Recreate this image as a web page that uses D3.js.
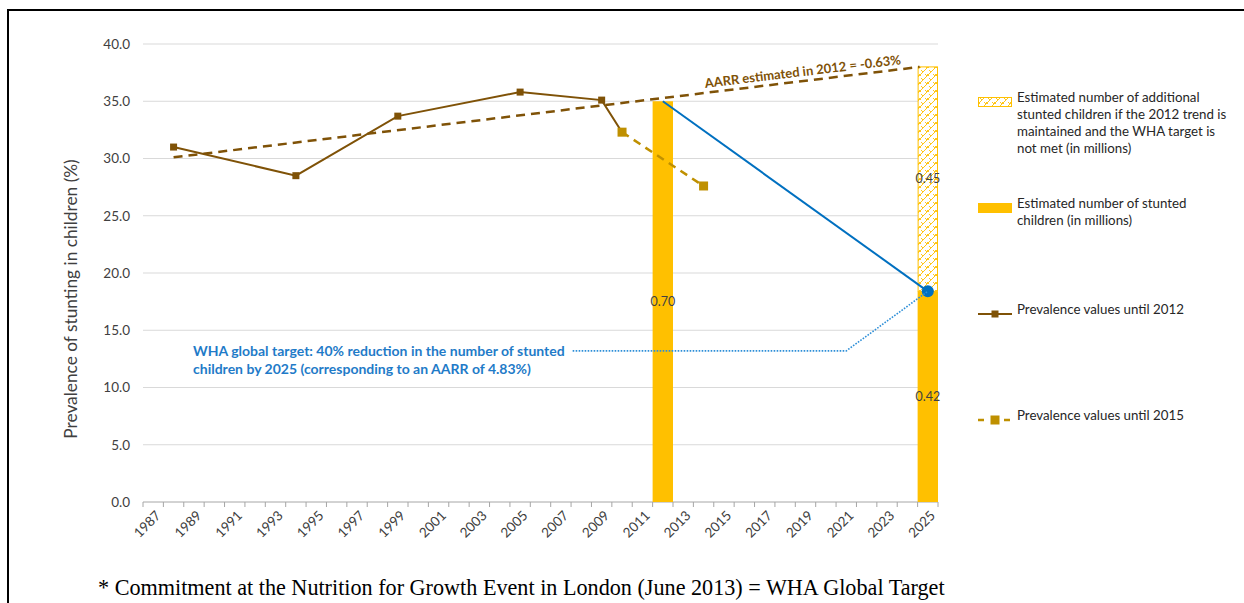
<!DOCTYPE html>
<html>
<head>
<meta charset="utf-8">
<script src="https://cdn.jsdelivr.net/npm/d3@7"></script>
<style>
  body { margin: 0; background: #fff; }
  .grid line { stroke: #d9d9d9; stroke-width: 1; }
  .axis text { fill: #404040; }
</style>
</head>
<body>
<div id="graphic"></div>
<script>
// categories: every year on the x axis
var years = d3.range(1987, 2026).map(String);
var yTicks = [0, 5, 10, 15, 20, 25, 30, 35, 40];

// prevalence values until 2012 (solid)
var until2012Years = ["1988", "1994", "1999", "2005", "2009", "2010"];
var until2012Values = [31.0, 28.5, 33.7, 35.8, 35.1, 32.3];

// prevalence values until 2015 (dashed)
var until2015Years = ["2010", "2014"];
var until2015Values = [32.3, 27.6];

// AARR trend line (estimated in 2012)
var trendYears = ["1988", "2025"];
var trendValues = [30.1, 38.0];

// WHA target line
var targetYears = ["2012", "2025"];
var targetValues = [35.0, 18.4];

// bars: stunted children (solid) and additional children (hatched)
var barYears = ["2012", "2025"];
var barValues = [35.0, 18.4];
var barLabels = ["0.70", "0.42"];
var extraYears = ["2025"];
var extraValues = [19.6];
var extraLabels = ["0.45"];

var brown = "#7f5207", gold = "#bf9000", yellow = "#ffc000", blue = "#0070c0";
var sans = "Lato, 'Open Sans', sans-serif";

var width = 1244, height = 603;
var margin = {top: 44, left: 143, right: 306, bottom: 101};
var chart_width = width - margin.left - margin.right;
var chart_height = height - margin.top - margin.bottom;

var svg = d3.select("#graphic").append("svg")
  .attr("width", width)
  .attr("height", height)
  .style("font-family", sans);

var defs = svg.append("defs");
var pat = defs.append("pattern")
  .attr("id", "hatch")
  .attr("patternUnits", "userSpaceOnUse")
  .attr("width", 8).attr("height", 8);
pat.append("rect").attr("width", 8).attr("height", 8).attr("fill", "#fff");
pat.append("path")
  .attr("d", "M0,8 L8,0 M-1,1 L1,-1 M7,9 L9,7 M2,2 L4,4 M6,6 L8,8 M0,6 L2,8")
  .attr("fill", "none")
  .attr("stroke", yellow)
  .attr("stroke-width", 0.9);

// outer frame
svg.append("path")
  .attr("d", "M8,603 L8,10 L1244,10")
  .attr("fill", "none")
  .attr("stroke", "#000")
  .attr("stroke-width", 2);

var g = svg.append("g")
  .attr("transform", "translate(" + margin.left + "," + margin.top + ")");

var x = d3.scaleBand()
  .domain(years)
  .range([0, chart_width])
  .padding(0);

var y = d3.scaleLinear()
  .domain([0, 40])
  .range([chart_height, 0]);

var cx = function(yr) { return x(yr) + x.bandwidth() / 2; };

// gridlines
g.append("g")
  .attr("class", "grid")
  .selectAll("line")
  .data(yTicks.filter(d => d > 0))
  .join("line")
  .attr("x1", 0)
  .attr("x2", chart_width)
  .attr("y1", d => y(d))
  .attr("y2", d => y(d));

// y axis labels
g.append("g")
  .attr("class", "axis y")
  .call(d3.axisLeft(y).tickValues(yTicks).tickFormat(d3.format(".1f")).tickSize(0).tickPadding(13))
  .call(a => a.select(".domain").remove())
  .selectAll("text")
  .attr("font-family", sans)
  .attr("font-size", 13.5);

// x axis: ticks at category edges, labels every other year
var xa = g.append("g")
  .attr("class", "axis x")
  .attr("transform", "translate(0," + chart_height + ")");
xa.append("line")
  .attr("x1", 0).attr("x2", chart_width)
  .attr("stroke", "#a6a6a6");
xa.selectAll("line.tick")
  .data(years.concat(["end"]))
  .join("line")
  .attr("class", "tick")
  .attr("x1", (d, i) => i * x.bandwidth())
  .attr("x2", (d, i) => i * x.bandwidth())
  .attr("y1", 0).attr("y2", 5)
  .attr("stroke", "#a6a6a6");
xa.selectAll("text")
  .data(years.filter((d, i) => i % 2 == 0))
  .join("text")
  .attr("transform", d => "translate(" + (cx(d) + 5) + ",11) rotate(-45)")
  .attr("text-anchor", "end")
  .attr("dy", "0.35em")
  .attr("font-size", 13.5)
  .text(d => d);

// bars
g.selectAll("rect.bar")
  .data(barYears.map((d, i) => ({year: d, value: barValues[i], label: barLabels[i]})))
  .join("rect")
  .attr("class", "bar")
  .attr("x", d => x(d.year))
  .attr("width", x.bandwidth())
  .attr("y", d => y(d.value))
  .attr("height", d => y(0) - y(d.value))
  .attr("fill", yellow);

var extra = extraYears.map((d, i) => ({year: d, value: extraValues[i], label: extraLabels[i],
  base: barValues[barYears.indexOf(d)]}));
g.selectAll("rect.extra")
  .data(extra)
  .join("rect")
  .attr("class", "extra")
  .attr("x", d => x(d.year) + 0.5)
  .attr("width", x.bandwidth() - 1)
  .attr("y", d => y(d.base + d.value))
  .attr("height", d => y(d.base) - y(d.base + d.value))
  .attr("fill", "url(#hatch)")
  .attr("stroke", yellow)
  .attr("stroke-width", 1);

g.selectAll("text.barLabel")
  .data(barYears.map((d, i) => ({year: d, mid: barValues[i] / 2, label: barLabels[i]}))
    .concat(extra.map(d => ({year: d.year, mid: d.base + d.value / 2, label: d.label}))))
  .join("text")
  .attr("class", "barLabel")
  .attr("x", d => cx(d.year))
  .attr("y", d => y(d.mid))
  .attr("dy", "0.35em")
  .attr("text-anchor", "middle")
  .attr("fill", "#404040")
  .attr("font-size", 12.5)
  .text(d => d.label);

var line = d3.line()
  .x(d => cx(d[0]))
  .y(d => y(d[1]));

// AARR trend
var tx0 = cx(trendYears[0]), tx1 = x(trendYears[1]) + 2;
var ty0 = y(trendValues[0]), ty1 = y(trendValues[1]);
g.append("path")
  .attr("d", "M" + tx0 + "," + ty0 + " L" + tx1 + "," + ty1)
  .attr("fill", "none")
  .attr("stroke", brown)
  .attr("stroke-width", 2.5)
  .attr("stroke-dasharray", "9,6");

var ang = Math.atan2(ty1 - ty0, tx1 - tx0) * 180 / Math.PI;
var lxp = x("2019") + 8;
var lyp = ty0 + (ty1 - ty0) * (lxp - tx0) / (tx1 - tx0) - 5;
g.append("text")
  .attr("transform", "translate(" + lxp + "," + lyp + ") rotate(" + ang + ")")
  .attr("text-anchor", "middle")
  .attr("font-size", 13)
  .attr("font-weight", "bold")
  .attr("fill", brown)
  .text("AARR estimated in 2012 = -0.63%");

// WHA target line
g.append("path")
  .attr("d", line(d3.zip(targetYears, targetValues)))
  .attr("fill", "none")
  .attr("stroke", blue)
  .attr("stroke-width", 2);

// prevalence until 2015
var p15 = d3.zip(until2015Years, until2015Values);
g.append("path")
  .attr("d", line(p15))
  .attr("fill", "none")
  .attr("stroke", gold)
  .attr("stroke-width", 2.5)
  .attr("stroke-dasharray", "8,6");

// prevalence until 2012
var p12 = d3.zip(until2012Years, until2012Values);
g.append("path")
  .attr("d", line(p12))
  .attr("fill", "none")
  .attr("stroke", brown)
  .attr("stroke-width", 2);

g.selectAll("rect.m15")
  .data(p15)
  .join("rect")
  .attr("class", "m15")
  .attr("x", d => cx(d[0]) - 4.5)
  .attr("y", d => y(d[1]) - 4.5)
  .attr("width", 9).attr("height", 9)
  .attr("fill", gold);

g.selectAll("rect.m12")
  .data(p12.slice(0, -1))
  .join("rect")
  .attr("class", "m12")
  .attr("x", d => cx(d[0]) - 3.5)
  .attr("y", d => y(d[1]) - 3.5)
  .attr("width", 7).attr("height", 7)
  .attr("fill", brown);

// target dot
g.append("circle")
  .attr("cx", cx(targetYears[1]))
  .attr("cy", y(targetValues[1]))
  .attr("r", 6)
  .attr("fill", blue);

// WHA annotation
var note = g.append("text")
  .attr("x", 50)
  .attr("y", y(13.2))
  .attr("dy", "0.35em")
  .attr("font-size", 14)
  .attr("font-weight", "bold")
  .attr("fill", "#1f7bc8");
note.append("tspan").text("WHA global target: 40% reduction in the number of stunted");
note.append("tspan").attr("x", 50).attr("dy", 18).text("children by 2025 (corresponding to an AARR of 4.83%)");

var noteEnd = 50 + note.select("tspan").node().getComputedTextLength() + 8;
g.append("path")
  .attr("d", "M" + noteEnd + "," + y(13.2) + " L" + cx("2021") + "," + y(13.2) +
    " L" + cx(targetYears[1]) + "," + y(targetValues[1]))
  .attr("fill", "none")
  .attr("stroke", "#2e8fd8")
  .attr("stroke-width", 1.6)
  .attr("stroke-dasharray", "1.6,1.4");

// y axis title
svg.append("text")
  .attr("transform", "translate(77,299) rotate(-90)")
  .attr("text-anchor", "middle")
  .attr("font-size", 17.3)
  .attr("fill", "#404040")
  .text("Prevalence of stunting in children (%)");

// legend
var legend = svg.append("g").attr("transform", "translate(978,0)");
var lx = 39;
legend.append("rect").attr("x", 0.5).attr("y", 97.5).attr("width", 33).attr("height", 9)
  .attr("fill", "url(#hatch)").attr("stroke", yellow);
legend.append("rect").attr("x", 0).attr("y", 203).attr("width", 34).attr("height", 10)
  .attr("fill", yellow);
legend.append("line").attr("x1", 0).attr("x2", 34).attr("y1", 314).attr("y2", 314)
  .attr("stroke", brown).attr("stroke-width", 2);
legend.append("rect").attr("x", 13.5).attr("y", 310.5).attr("width", 7).attr("height", 7).attr("fill", brown);
legend.append("line").attr("x1", 0).attr("x2", 34).attr("y1", 420).attr("y2", 420)
  .attr("stroke", gold).attr("stroke-width", 2.5).attr("stroke-dasharray", "6,7");
legend.append("rect").attr("x", 12.5).attr("y", 415.5).attr("width", 9).attr("height", 9).attr("fill", gold);

var legendTexts = [
  {y: 102, lines: ["Estimated number of additional", "stunted children if the 2012 trend is", "maintained and the WHA target is", "not met (in millions)"]},
  {y: 208, lines: ["Estimated number of stunted", "children (in millions)"]},
  {y: 314, lines: ["Prevalence values until 2012"]},
  {y: 420, lines: ["Prevalence values until 2015"]}
];
legendTexts.forEach(function(item) {
  var t = legend.append("text")
    .attr("x", lx)
    .attr("y", item.y)
    .attr("dy", "0.35em")
    .attr("font-size", 13.3)
    .attr("fill", "#262626");
  item.lines.forEach(function(l, i) {
    t.append("tspan").attr("x", lx).attr("dy", i == 0 ? 0 : 17).text(l);
  });
});

// footnote, sized to span the same width as in the original
var foot = svg.append("text")
  .attr("x", 98)
  .attr("y", 595)
  .style("font-family", "'Liberation Serif', 'DejaVu Serif', serif")
  .attr("font-size", 20)
  .attr("fill", "#000")
  .text("* Commitment at the Nutrition for Growth Event in London (June 2013) = WHA Global Target");
var fw = foot.node().getComputedTextLength();
foot.attr("font-size", 20 * 847 / fw);
</script>
</body>
</html>
